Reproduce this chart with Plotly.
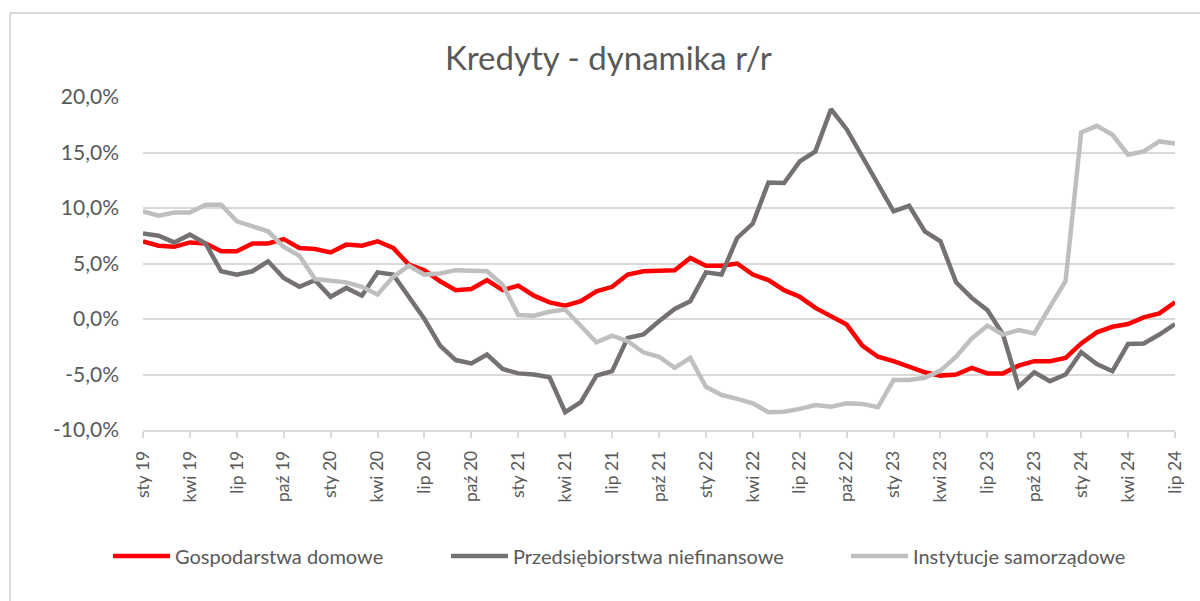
import plotly.graph_objects as go

month_names = ["sty", "lut", "mar", "kwi", "maj", "cze", "lip", "sie", "wrz", "paź", "lis", "gru"]
years = ["19", "20", "21", "22", "23", "24"]
months = [f"{m} {y}" for y in years for m in month_names][:67]  # sty 19 .. lip 24

gospodarstwa = [7.0, 6.6, 6.5, 6.9, 6.8, 6.1, 6.1, 6.8, 6.8, 7.2,
                6.4, 6.3, 6.0, 6.7, 6.6, 7.0, 6.4, 4.9, 4.4, 3.4,
                2.6, 2.7, 3.5, 2.6, 3.0, 2.1, 1.5, 1.2, 1.6, 2.5,
                2.9, 4.0, 4.3, 4.35, 4.4, 5.5, 4.8, 4.8, 5.0, 4.0,
                3.5, 2.6, 2.0, 1.0, 0.3, -0.5, -2.4, -3.4, -3.8, -4.3,
                -4.8, -5.1, -5.0, -4.4, -4.9, -4.9, -4.2, -3.8, -3.8, -3.5,
                -2.2, -1.2, -0.7, -0.45, 0.15, 0.5, 1.5]

przedsiebiorstwa = [7.7, 7.5, 6.9, 7.6, 6.8, 4.3, 4.0, 4.3, 5.2, 3.7,
                    2.9, 3.5, 2.0, 2.8, 2.1, 4.2, 4.0, 2.0, 0.0, -2.4,
                    -3.7, -4.0, -3.2, -4.5, -4.9, -5.0, -5.25, -8.4, -7.5, -5.1,
                    -4.7, -1.7, -1.4, -0.2, 0.9, 1.6, 4.2, 4.0, 7.3, 8.6,
                    12.3, 12.25, 14.2, 15.1, 18.9, 17.1, 14.6, 12.0, 9.7, 10.2,
                    7.9, 7.0, 3.3, 1.9, 0.8, -1.4, -6.1, -4.8, -5.6, -5.0,
                    -3.0, -4.05, -4.7, -2.25, -2.2, -1.4, -0.45]

instytucje = [9.7, 9.3, 9.6, 9.6, 10.3, 10.3, 8.8, 8.4, 7.9, 6.5,
              5.7, 3.6, 3.4, 3.3, 2.9, 2.2, 3.8, 4.8, 4.0, 4.1,
              4.4, 4.35, 4.3, 3.1, 0.35, 0.3, 0.65, 0.85, -0.7, -2.1,
              -1.5, -2.0, -3.0, -3.4, -4.4, -3.5, -6.1, -6.85, -7.2, -7.6,
              -8.4, -8.35, -8.1, -7.75, -7.9, -7.6, -7.65, -7.95, -5.5, -5.5,
              -5.3, -4.65, -3.4, -1.75, -0.6, -1.4, -1.0, -1.3, 1.1, 3.4,
              16.8, 17.4, 16.6, 14.8, 15.1, 16.0, 15.8]

series_names = ["Gospodarstwa domowe", "Przedsiębiorstwa niefinansowe", "Instytucje samorządowe"]
series_values = [gospodarstwa, przedsiebiorstwa, instytucje]
series_colors = ["#FF0000", "#767171", "#BFBFBF"]

y_ticks = [-10, -5, 0, 5, 10, 15, 20]
y_labels = ["-10,0%", "-5,0%", "0,0%", "5,0%", "10,0%", "15,0%", "20,0%"]

FONT = "Lato"
TXT = "#595959"
GRID = "#D9D9D9"
W, H = 1200, 601

fig = go.Figure()
legend_ids = ["legend", "legend2", "legend3"]
for name, vals, col, lg in zip(series_names, series_values, series_colors, legend_ids):
    fig.add_trace(go.Scatter(
        x=list(range(len(months))), y=vals, name=name, mode="lines",
        line=dict(color=col, width=4.5),
        legend=lg, showlegend=True,
    ))

leg_common = dict(orientation="h", xref="container", yref="container",
                  yanchor="middle", y=1 - 556 / H, xanchor="left",
                  font=dict(family=FONT, size=20, color=TXT),
                  bgcolor="rgba(0,0,0,0)", itemwidth=57, visible=True)

fig.update_layout(
    width=W, height=H, showlegend=True,
    paper_bgcolor="white", plot_bgcolor="white",
    margin=dict(l=143, r=25, t=97, b=171),
    title=dict(text="Kredyty - dynamika r/r", x=0.507, xanchor="center",
               y=1 - 58 / H, yanchor="middle",
               font=dict(family=FONT, size=33, color=TXT)),
    legend=dict(x=108 / W, **leg_common),
    legend2=dict(x=446 / W, **leg_common),
    legend3=dict(x=846 / W, **leg_common),
    xaxis=dict(
        range=[0, len(months) - 1],
        tickmode="array",
        tickvals=list(range(0, len(months), 3)),
        ticktext=months[::3],
        tickangle=-90,
        tickfont=dict(family=FONT, size=17.5, color=TXT),
        showgrid=False, zeroline=False,
        showline=True, linecolor=GRID, linewidth=1.5,
        ticks="outside", ticklen=6, tickcolor=GRID, tickwidth=1.5,
        ticklabelstandoff=6,
    ),
    yaxis=dict(
        range=[-10, 20],
        tickmode="array", tickvals=y_ticks, ticktext=y_labels,
        tickfont=dict(family=FONT, size=21, color=TXT),
        showgrid=True, gridcolor=GRID, gridwidth=1.5,
        zeroline=False, showline=False,
        ticklabelstandoff=23,
    ),
    shapes=[
        dict(type="line", xref="paper", yref="paper",
             x0=(10 - 143) / 1032, x1=1.2, y0=(430 - 13) / 333, y1=(430 - 13) / 333,
             line=dict(color=GRID, width=2)),
        dict(type="line", xref="paper", yref="paper",
             x0=(10 - 143) / 1032, x1=(10 - 143) / 1032, y0=(430 - 13) / 333, y1=-0.8,
             line=dict(color=GRID, width=2)),
    ],
)

fig.write_html("out.html", config={"displayModeBar": False},
               post_script="document.body.style.margin='0';")
